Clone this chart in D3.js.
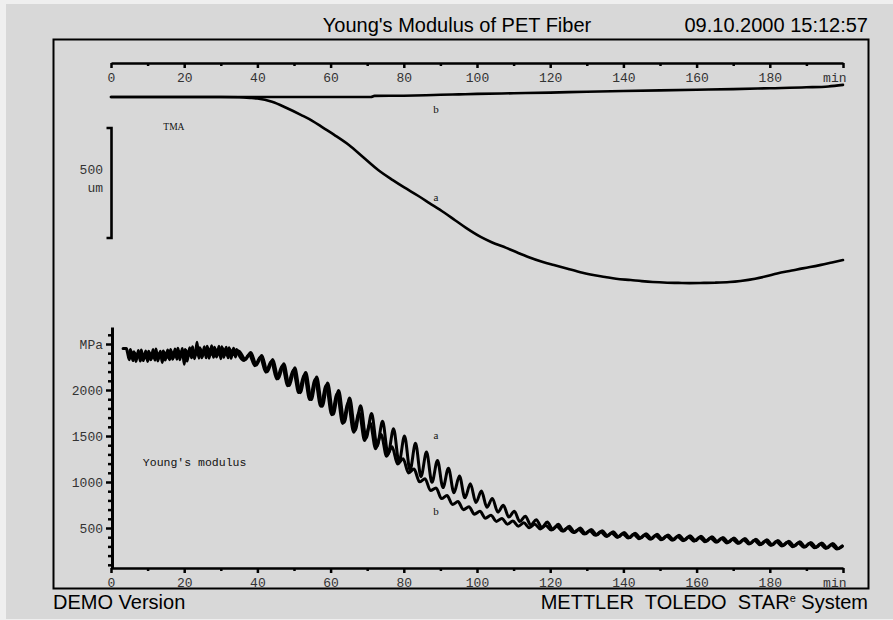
<!DOCTYPE html>
<html>
<head>
<meta charset="utf-8">
<script src="https://cdn.jsdelivr.net/npm/d3@7"></script>
<style>
  html, body { margin: 0; padding: 0; background: #efefef; }
  svg { display: block; }
  .mono { font-family: "Liberation Mono", "Courier New", monospace; }
</style>
</head>
<body>
<svg id="chart" width="893" height="620"></svg>
<script>
// ---- header / footer text ----
const titleText = "Young's Modulus of PET Fiber";
const stampText = "09.10.2000 15:12:57";
const demoText = "DEMO Version";

// ---- time axis (min) ----
const timeMajor = [0, 20, 40, 60, 80, 100, 120, 140, 160, 180, 200];
const timeMinor = [10, 30, 50, 70, 90, 110, 130, 150, 170, 190];
const timeUnit = "min";

// ---- modulus axis (MPa) ----
const modMajor = [500, 1000, 1500, 2000, 2500];
const modMinor = [100, 200, 300, 400, 600, 700, 800, 900, 1100, 1200, 1300, 1400,
  1600, 1700, 1800, 1900, 2100, 2200, 2300, 2400, 2600];
const modUnit = "MPa";

// ---- TMA scale bar: 500 um ----
const tmaBar = [-141, -641];
const tmaBarLabel = ["500", "um"];

// ---- TMA curves [min, um] ----
const tmaA = [[0,0],[10,0],[20,0],[30,0],[35,-1],[38,-4],[40,-7],[44,-22],[48,-50],[52,-82],
  [55,-108],[58,-140],[61,-172],[65,-218],[69,-275],[73,-332],[77,-378],[80,-410],[84,-450],
  [87,-482],[91,-525],[94,-560],[97,-595],[101,-636],[104,-660],[108,-686],[111,-707],[114,-727],
  [118,-750],[121,-764],[125,-782],[128,-795],[131,-807],[135,-818],[138,-826],[142,-832],
  [145,-837],[148,-841],[152,-844],[155,-845],[158,-846],[162,-845],[165,-844],[169,-841],
  [172,-836],[176,-826],[179,-815],[182,-802],[186,-789],[189,-779],[191,-773],[194,-763],
  [197,-752],[200,-741]];
const tmaB = [[0,0],[20,0],[40,0],[60,0],[71,0],[72,5],[80,6],[86,8],[90,10],[95,12],[100,14],
  [110,17],[120,20],[130,24],[140,27],[150,30],[160,33],[170,36],[180,40],[190,44],[196,48],[200,55]];

// ---- Young's modulus curves [min, MPa] ----
const modA = [[3.3,2450],[4.2,2450],
  [4.5,2410],[5,2330],[5.5,2420],[6,2320],[6.5,2400],[7,2340],[7.5,2430],[8,2315],[8.5,2390],
  [9,2350],[9.5,2425],[10,2310],[10.5,2405],[11,2335],[11.5,2440],[12,2325],[12.5,2395],[13,2345],
  [13.5,2420],[14,2300],[14.5,2410],[15,2350],[15.5,2435],[16,2330],[16.5,2415],[17,2345],
  [17.5,2445],[18,2335],[18.5,2420],[19,2360],[19.5,2450],[20,2280],[20.5,2430],[21,2355],
  [21.5,2460],[22,2350],[22.5,2430],[23,2370],[23.5,2520],[24,2345],[24.5,2440],[25,2365],
  [25.5,2470],[26,2350],[26.5,2455],[27,2375],[27.5,2480],[28,2355],[28.5,2445],[29,2370],
  [29.5,2475],[30,2340],[30.5,2450],[31,2380],[31.5,2465],[32,2350],[32.5,2440],[33,2375],
  [33.5,2455],[34,2360],[34.5,2430],
  [35.2,2414],[36.7,2332],[38.2,2407],[39.7,2272],[41.2,2376],[42.7,2198],[44.2,2331],[45.7,2123],
  [47.2,2286],[48.7,2048],[50.2,2241],[51.7,1971],[53.2,2191],[54.7,1896],[56.2,2140],[57.7,1823],
  [59.2,2075],[60.7,1736],[62.2,1994],[63.7,1650],[65.2,1914],[66.7,1562],[68.2,1829],[69.7,1477],
  [71.2,1744],[72.7,1392],[74.2,1659],[75.7,1305],[77.2,1579],[78.7,1215],[80.2,1500],[81.7,1130],
  [83.2,1420],[84.7,1058],[86.2,1325],[87.7,996],[89.2,1235],[90.7,939],[92.2,1150],[93.7,883],
  [95.2,1065],[96.7,828],[98.2,981],[99.7,776],[101.2,901],[102.7,726],[104.2,821],[105.7,673],
  [107.2,746],[108.7,619],[110.2,682],[111.7,570],[113.2,628],[114.7,531],[116.2,591],[117.7,505],
  [119.2,564],[120.7,484],[122.2,540],[123.7,467],[125.2,519],[126.7,451],[128.2,499],[129.7,437],
  [131.2,484],[132.7,425],[134.2,469],[135.7,414],[137.2,459],[138.7,404],[140.2,450],[141.7,396],
  [143.2,443],[144.7,390],[146.2,437],[147.7,384],[149.2,431],[150.7,378],[152.2,425],[153.7,373],
  [155.2,421],[156.7,368],[158.2,416],[159.7,363],[161.2,410],[162.7,357],[164.2,404],[165.7,351],
  [167.2,398],[168.7,344],[170.2,391],[171.7,338],[173.2,385],[174.7,331],[176.2,378],[177.7,324],
  [179.2,371],[180.7,317],[182.2,364],[183.7,310],[185.2,357],[186.7,303],[188.2,350],[189.7,296],
  [191.2,343],[192.7,290],[194.2,337],[195.7,284],[197.2,331],[198.7,278],[199.8,305]];

const modB = [
  [4.8,2360],[5.3,2440],[5.8,2345],[6.3,2415],[6.8,2310],[7.3,2395],[7.8,2355],[8.3,2435],
  [8.8,2320],[9.3,2400],[9.8,2340],[10.3,2420],[10.8,2330],[11.3,2390],[11.8,2350],[12.3,2445],
  [12.8,2315],[13.3,2405],[13.8,2360],[14.3,2425],[14.8,2325],[15.3,2410],[15.8,2345],[16.3,2440],
  [16.8,2335],[17.3,2400],[17.8,2365],[18.3,2455],[18.8,2330],[19.3,2420],[19.8,2370],[20.3,2440],
  [20.8,2315],[21.3,2425],[21.8,2375],[22.3,2470],[22.8,2340],[23.3,2435],[23.8,2380],[24.3,2460],
  [24.8,2350],[25.3,2430],[25.8,2385],[26.3,2475],[26.8,2345],[27.3,2440],[27.8,2380],[28.3,2465],
  [28.8,2360],[29.3,2430],[29.8,2385],[30.3,2470],[30.8,2355],[31.3,2445],[31.8,2375],[32.3,2460],
  [32.8,2345],[33.3,2425],[33.8,2380],[34.3,2440],
  [34.8,2394],[36.3,2321],[37.8,2385],[39.3,2264],[40.8,2356],[42.3,2194],[43.8,2311],[45.3,2119],
  [46.8,2264],[48.3,2046],[49.8,2216],[51.3,1972],[52.8,2167],[54.3,1896],[55.8,2115],[57.3,1823],
  [58.8,2050],[60.3,1732],[61.8,1960],[63.3,1637],[64.8,1860],[66.3,1542],[67.8,1755],[69.3,1450],
  [70.8,1642],[72.3,1362],[73.8,1517],[75.3,1280],[76.8,1382],[78.3,1195],[79.8,1252],[81.3,1097],
  [82.8,1140],[84.3,1002],[85.8,1035],[87.3,907],[88.8,936],[90.3,820],[91.8,853],[93.3,755],
  [94.8,787],[96.3,699],[97.8,730],[99.3,650],[100.8,681],[102.3,607],[103.8,638],[105.3,572],
  [106.8,604],[108.3,542],[109.8,576],[111.3,520],[112.8,556],[114.3,503],[115.8,541],[117.3,490],
  [118.8,528],[120.3,477],[121.8,520],[123.3,467],[124.8,503],[126.3,450],[127.8,485],[129.3,434],
  [130.8,471],[132.3,420],[133.8,458],[135.3,408],[136.8,447],[138.3,398],[139.8,438],[141.3,390],
  [142.8,431],[144.3,384],[145.8,425],[147.3,378],[148.8,419],[150.3,372],[151.8,413],[153.3,367],
  [154.8,408],[156.3,362],[157.8,403],[159.3,357],[160.8,398],[162.3,351],[163.8,392],[165.3,345],
  [166.8,386],[168.3,338],[169.8,379],[171.3,332],[172.8,373],[174.3,325],[175.8,366],[177.3,318],
  [178.8,359],[180.3,311],[181.8,352],[183.3,304],[184.8,345],[186.3,297],[187.8,338],[189.3,290],
  [190.8,331],[192.3,284],[193.8,325],[195.3,278],[196.8,319],[198.3,272],[199.8,300]];

// ---- curve labels ----
const curveLabels = ["a", "b"];

const svg = d3.select("#chart");
const sans = "Liberation Sans, Arial, Helvetica, sans-serif";
const serif = "Liberation Serif, Times New Roman, serif";

// page background
svg.append("rect").attr("x", 6).attr("y", 4).attr("width", 887).attr("height", 615)
  .attr("fill", "#d8d8d8");

// scales
const x = d3.scaleLinear().domain([0, 200]).range([111, 843]);
const yTma = d3.scaleLinear().domain([0, -500]).range([97, 207]);
const yMod = d3.scaleLinear().domain([0, 2500]).range([574, 344]);

// frame
svg.append("rect").attr("x", 53.5).attr("y", 39.5).attr("width", 815).attr("height", 549)
  .attr("fill", "none").attr("stroke", "#000").attr("stroke-width", 2);

// header
svg.append("text").attr("x", 457).attr("y", 32).attr("text-anchor", "middle")
  .attr("font-family", sans).attr("font-size", 20).attr("fill", "#000").text(titleText);
svg.append("text").attr("x", 868).attr("y", 32).attr("text-anchor", "end")
  .attr("font-family", sans).attr("font-size", 20).attr("fill", "#000").text(stampText);

// footer
svg.append("text").attr("x", 53).attr("y", 609)
  .attr("font-family", sans).attr("font-size", 20).attr("fill", "#000").text(demoText);
const brand = svg.append("text").attr("x", 868).attr("y", 609).attr("text-anchor", "end")
  .attr("font-family", sans).attr("font-size", 20).attr("fill", "#000")
  .style("white-space", "pre");
brand.append("tspan").text("METTLER  TOLEDO  STAR");
brand.append("tspan").attr("font-size", 11).attr("dy", -7).text("e");
brand.append("tspan").attr("dy", 7).text(" System");

// time axes (top for TMA, bottom for modulus)
function timeAxis(yPos) {
  const gMinor = svg.append("g").attr("transform", `translate(0,${yPos})`)
    .call(d3.axisBottom(x).tickValues(timeMinor).tickSize(3).tickFormat(""));
  gMinor.select(".domain").remove();
  gMinor.selectAll("line").attr("stroke", "#000").attr("stroke-width", 2.5);
  const g = svg.append("g").attr("transform", `translate(0,${yPos})`)
    .call(d3.axisBottom(x).tickValues(timeMajor).tickSize(5).tickSizeOuter(0).tickPadding(5)
      .tickFormat(d => d === 200 ? timeUnit : d));
  g.select(".domain").attr("stroke", "#000").attr("stroke-width", 2.6);
  g.selectAll(".tick line").attr("stroke", "#000").attr("stroke-width", 2.5);
  g.selectAll(".tick text").attr("class", "mono").attr("font-size", 13).attr("fill", "#333")
    .attr("text-anchor", d => d === 200 ? "end" : "middle")
    .attr("x", d => d === 200 ? 3 : 0);
  return g;
}
timeAxis(63);
timeAxis(568);

// modulus axis
const yAxisScale = yMod.copy().domain([yMod.invert(568), yMod.invert(327)]).range([568, 327]);
const gyMinor = svg.append("g").attr("transform", "translate(112,0)")
  .call(d3.axisLeft(yAxisScale).tickValues(modMinor).tickSize(4).tickFormat(""));
gyMinor.select(".domain").remove();
gyMinor.selectAll("line").attr("stroke", "#000").attr("stroke-width", 2.5);
const gy = svg.append("g").attr("transform", "translate(112,0)")
  .call(d3.axisLeft(yAxisScale).tickValues(modMajor).tickSize(6).tickSizeOuter(0).tickPadding(3)
    .tickFormat(d => d === 2500 ? modUnit : d));
gy.select(".domain").attr("stroke", "#000").attr("stroke-width", 3);
gy.selectAll(".tick line").attr("stroke", "#000").attr("stroke-width", 2.5);
gy.selectAll(".tick text").attr("class", "mono").attr("font-size", 13).attr("fill", "#333");

// TMA scale bar
const bx = 111.5;
svg.append("path")
  .attr("d", `M${bx - 5},${yTma(tmaBar[0])}H${bx}V${yTma(tmaBar[1])}H${bx - 5}`)
  .attr("fill", "none").attr("stroke", "#000").attr("stroke-width", 2.6);
svg.append("text").attr("class", "mono").attr("x", 103).attr("y", 174)
  .attr("text-anchor", "end").attr("font-size", 13).attr("fill", "#333").text(tmaBarLabel[0]);
svg.append("text").attr("class", "mono").attr("x", 103).attr("y", 192)
  .attr("text-anchor", "end").attr("font-size", 13).attr("fill", "#333").text(tmaBarLabel[1]);

// curves
const lineTma = d3.line().x(d => x(d[0])).y(d => yTma(d[1])).curve(d3.curveMonotoneX);
const lineMod = d3.line().x(d => x(d[0])).y(d => yMod(d[1])).curve(d3.curveMonotoneX);

[tmaA, tmaB].forEach(s => svg.append("path").attr("d", lineTma(s))
  .attr("fill", "none").attr("stroke", "#000").attr("stroke-width", 2.6)
  .attr("stroke-linejoin", "round").attr("stroke-linecap", "round"));
[modA, modB].forEach(s => svg.append("path").attr("d", lineMod(s))
  .attr("fill", "none").attr("stroke", "#000").attr("stroke-width", 3)
  .attr("stroke-linejoin", "round").attr("stroke-linecap", "round"));

// annotations
function note(t, yv, txt, size, fam, anchor) {
  svg.append("text").attr("x", x(t)).attr("y", yv)
    .attr("dominant-baseline", "middle").attr("text-anchor", anchor || "middle")
    .attr("font-family", fam).attr("font-size", size).attr("fill", "#111").text(txt);
}
note(88.8, yTma(-60), curveLabels[1], 11, serif);
note(88.8, yTma(-460), curveLabels[0], 11, serif);
note(88.8, yMod(1490), curveLabels[0], 11, serif);
note(88.8, yMod(665), curveLabels[1], 11, serif);
note(14.3, yTma(-141), "TMA", 9.5, serif, "start");
note(8.7, yMod(1210), "Young's modulus", 11.5, "Liberation Mono, Courier New, monospace", "start");
</script>
</body>
</html>
